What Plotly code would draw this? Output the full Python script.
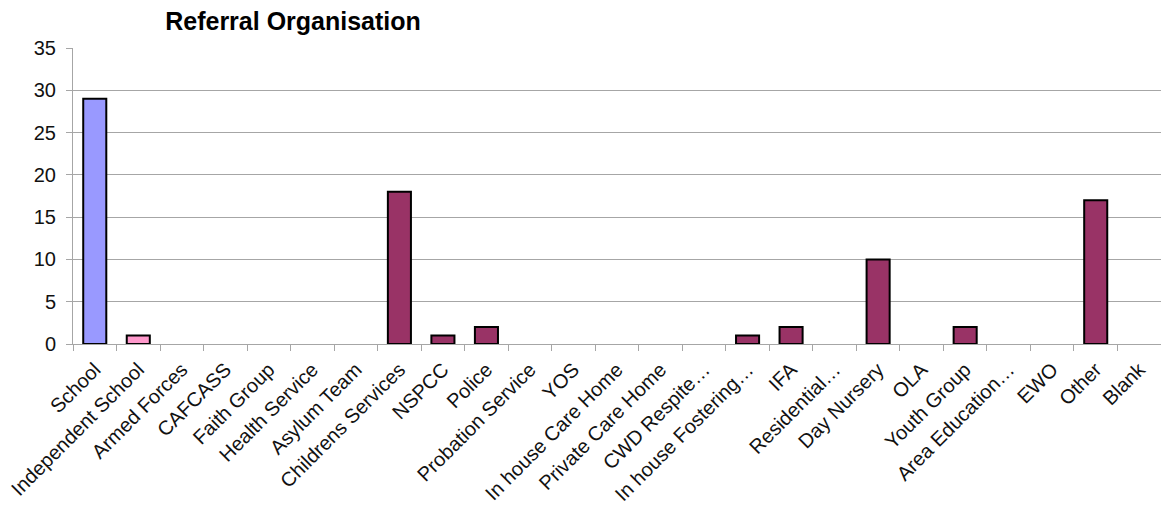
import plotly.graph_objects as go

categories = ["School", "Independent School", "Armed Forces", "CAFCASS", "Faith Group",
              "Health Service", "Asylum Team", "Childrens Services", "NSPCC", "Police",
              "Probation Service", "YOS", "In house Care Home", "Private Care Home",
              "CWD Respite…", "In house Fostering…", "IFA", "Residential…", "Day Nursery",
              "OLA", "Youth Group", "Area Education…", "EWO", "Other", "Blank"]
values = [29, 1, 0, 0, 0, 0, 0, 18, 1, 2, 0, 0, 0, 0, 0, 1, 2, 0, 10, 0, 2, 0, 0, 17, 0]
bar_colors = ["#9999FF", "#FF99CC"] + ["#993366"] * 23
y_ticks = [0, 5, 10, 15, 20, 25, 30, 35]

FONT = "Liberation Sans, Arial, sans-serif"
GRID = "#A6A6A6"

outline_widths = [2 if v > 0 else 0 for v in values]

fig = go.Figure(go.Bar(
    x=categories, y=values,
    marker=dict(color=bar_colors, line=dict(color="#000000", width=outline_widths)),
    hoverinfo="x+y",
))

fig.update_layout(
    width=1161, height=506,
    margin=dict(l=73, r=0, t=48, b=162),
    paper_bgcolor="white", plot_bgcolor="white",
    bargap=0.47,
    showlegend=False,
    font=dict(family=FONT, size=20, color="#000000"),
    title=dict(text="<b>Referral Organisation</b>", x=0.2524, xanchor="center",
               y=1 - 21 / 506, yanchor="middle",
               font=dict(family=FONT, size=25, color="#000000")),
)

fig.update_xaxes(
    type="category", tickangle=-45, tickson="boundaries",
    ticks="outside", ticklen=6, tickcolor=GRID, tickwidth=1,
    showline=True, linecolor=GRID, linewidth=1,
    showgrid=False, tickfont=dict(family=FONT, size=20, color="#111111"),
    ticklabelstandoff=5,
    range=[-0.5, len(categories) - 0.5],
)
fig.update_yaxes(
    range=[0, 35], tickvals=y_ticks, ticktext=[str(v) for v in y_ticks],
    ticks="outside", ticklen=6, tickcolor=GRID, tickwidth=1,
    showline=True, linecolor=GRID, linewidth=1,
    showgrid=True, gridcolor=GRID, gridwidth=1, zeroline=False,
    tickfont=dict(family=FONT, size=20, color="#111111"),
    ticklabelstandoff=6,
)

fig.write_html("out.html")
